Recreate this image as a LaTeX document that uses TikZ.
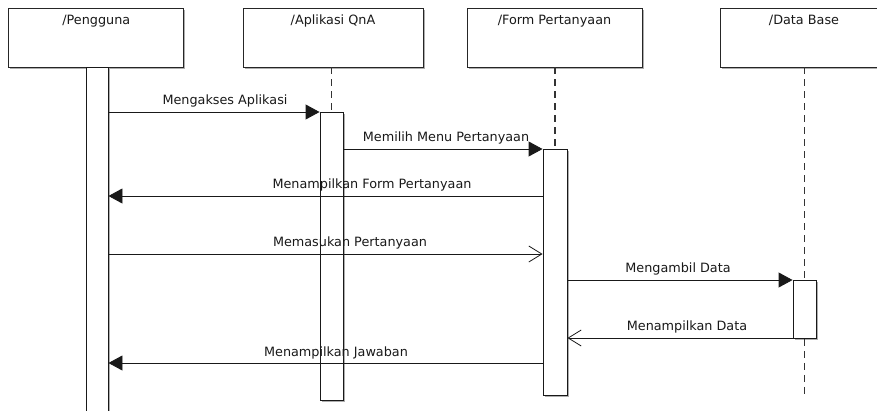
\documentclass[tikz,border=0pt]{standalone}
\usepackage{fontspec}
\setmainfont{DejaVu Sans}
\usetikzlibrary{arrows.meta,shadows}

\tikzset{
  x=1pt, y=-1pt,
  shade/.style={drop shadow={shadow xshift=1.6pt, shadow yshift=-1.6pt, fill=black!45, opacity=0.7}},
  lifebox/.style={draw=black!85, fill=white, line width=0.9pt, shade,
    minimum height=59pt, inner sep=0pt},
  boxtitle/.style={anchor=north, inner sep=0pt, yshift=-7pt, text=black!90},
  activation/.style={draw=black!90, fill=white, line width=0.9pt, shade,
    anchor=north, inner sep=0pt},
  lifeline/.style={draw=black!80, line width=1.5pt, dash pattern=on 7pt off 5pt},
  call/.style={draw=black!90, line width=0.9pt, -{Triangle[length=14pt,width=15pt]}},
  reply/.style={draw=black!90, line width=0.9pt, -{Straight Barb[length=13pt,width=16pt,line width=0.8pt]}},
  msg/.style={inner sep=0pt, text=black!90},
}

\begin{document}
\begin{tikzpicture}[font=\fontsize{12.8}{15}\selectfont]
\useasboundingbox (0,0) rectangle (877,410);
\clip (0,0) rectangle (877,410);

% participant boxes
\node[lifebox, minimum width=175pt] (P) at (96.3,37.5) {};
\node[boxtitle] at (P.north) {/Pengguna};
\node[lifebox, minimum width=180pt] (A) at (333,37.5) {};
\node[boxtitle] at (A.north) {/Aplikasi QnA};
\node[lifebox, minimum width=175pt] (F) at (554.5,37.5) {};
\node[boxtitle] at (F.north) {/Form Pertanyaan};
\node[lifebox, minimum width=172pt] (D) at (806,37.5) {};
\node[boxtitle] at ([xshift=-2pt]D.north) {/Data Base};

% activation bars
\node[activation, minimum width=22pt, minimum height=350pt] (bP) at (97,67) {};
\node[activation, minimum width=23pt, minimum height=288pt] (bA) at (331.5,112) {};
\node[activation, minimum width=24pt, minimum height=246pt] (bF) at (555,149) {};
\node[activation, minimum width=23pt, minimum height=58pt] (bD) at (804.5,280) {};

% dashed lifelines
\coordinate (endD) at (804.5,398);
\draw[lifeline] (bA.north |- A.south) -- (bA.north);
\draw[lifeline] (bF.north |- F.south) -- (bF.north);
\draw[lifeline] (bD.north |- D.south) -- (bD.north);
\draw[lifeline] (bD.south) -- (endD);

% message levels
\coordinate (m1) at (0,112);
\coordinate (m2) at (0,149);
\coordinate (m3) at (0,196);
\coordinate (m4) at (0,254);
\coordinate (m5) at (0,280);
\coordinate (m6) at (0,338);
\coordinate (m7) at (0,363);

% messages
\draw[call]  (bP.east |- m1) -- (bA.west |- m1);
\node[msg] (t1) at (225,101) {Mengakses Aplikasi};
\draw[call]  (bA.east |- m2) -- (bF.west |- m2);
\node[msg] (t2) at (446,138) {Memilih Menu Pertanyaan};
\draw[call]  (bF.west |- m3) -- (bP.east |- m3);
\node[msg] (t3) at (372,185) {Menampilkan Form Pertanyaan};
\draw[reply] (bP.east |- m4) -- (bF.west |- m4);
\node[msg] (t4) at (350,243) {Memasukan Pertanyaan};
\draw[call]  (bF.east |- m5) -- (bD.west |- m5);
\node[msg] (t5) at (678,269) {Mengambil Data};
\draw[reply] (bD.west |- m6) -- (bF.east |- m6);
\node[msg] (t6) at (687,327) {Menampilkan Data};
\draw[call]  (bF.west |- m7) -- (bP.east |- m7);
\node[msg] (t7) at (336,353) {Menampilkan Jawaban};
\end{tikzpicture}
\end{document}
